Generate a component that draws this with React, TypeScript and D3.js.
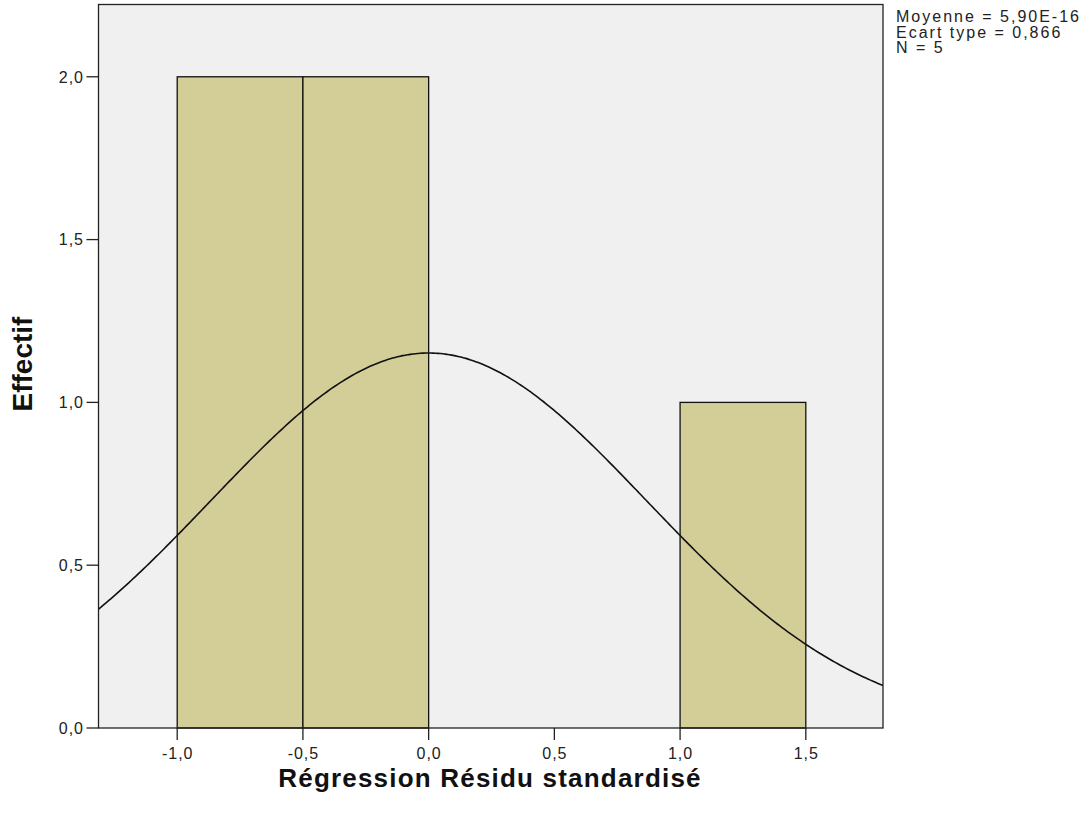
import React from 'react';
import * as d3 from 'd3';

// histogram bins (lower edge, upper edge, count)
const binStarts = [-1.0, -0.5, 1.0];
const binEnds = [-0.5, 0.0, 1.5];
const binCounts = [2, 2, 1];

const xTicks = [-1.0, -0.5, 0.0, 0.5, 1.0, 1.5];
const yTicks = [0, 0.5, 1.0, 1.5, 2.0];

const statsLines = ['Moyenne = 5,90E-16', 'Ecart type = 0,866', 'N = 5'];
const mean = 5.9e-16;
const stdDev = 0.866;
const nObs = 5;
const binWidth = 0.5;

const W = 1091;
const H = 823;
const left = 98.5;
const right = 883;
const top = 4.5;
const bottom = 728;

const fmt = (v: number) => v.toFixed(1).replace('.', ',');

export default function App() {
  const x = d3.scaleLinear().domain([-1.313, 1.807]).range([left, right]);
  const y = d3.scaleLinear().domain([0, 2.222]).range([bottom, top]);

  // fitted normal curve, scaled to counts per bin
  const curveXs = d3.range(-1.313, 1.808, 0.01);
  const density = (v: number) =>
    (nObs * binWidth) / (stdDev * Math.sqrt(2 * Math.PI)) *
    Math.exp(-0.5 * ((v - mean) / stdDev) ** 2);
  const line = d3.line<number>()
    .x(d => x(d))
    .y(d => y(density(d)))
    .curve(d3.curveBasis);

  const font = 'Arial, "Liberation Sans", sans-serif';

  return (
    <svg width={W} height={H} style={{ position: 'absolute', left: 0, top: 0, background: '#fff' }}>
      <defs>
        <clipPath id="plot">
          <rect x={left} y={top} width={right - left} height={bottom - top} />
        </clipPath>
      </defs>
      <rect x={left} y={top} width={right - left} height={bottom - top} fill="#f0f0f0" />
      {binCounts.map((c, i) => (
        <rect key={i}
          x={x(binStarts[i])} y={y(c)}
          width={x(binEnds[i]) - x(binStarts[i])} height={y(0) - y(c)}
          fill="#d3ce98" stroke="#111" strokeWidth={1.3} />
      ))}
      <path d={line(curveXs) || ''} fill="none" stroke="#111" strokeWidth={1.6} clipPath="url(#plot)" />
      <rect x={left} y={top} width={right - left} height={bottom - top} fill="none" stroke="#222" strokeWidth={1.3} />

      {yTicks.map(t => (
        <g key={'y' + t}>
          <line x1={left - 12} x2={left} y1={y(t)} y2={y(t)} stroke="#222" strokeWidth={1.3} />
          <text x={84} y={y(t)} dy="0.36em" textAnchor="end" fontFamily={font} fontSize={16} letterSpacing={1} fill="#222">{fmt(t)}</text>
        </g>
      ))}
      {xTicks.map(t => (
        <g key={'x' + t}>
          <line x1={x(t)} x2={x(t)} y1={bottom} y2={bottom + 12} stroke="#222" strokeWidth={1.3} />
          <text x={x(t) + 0.5} y={bottom + 31} textAnchor="middle" fontFamily={font} fontSize={16} letterSpacing={1} fill="#222">{fmt(t)}</text>
        </g>
      ))}

      <text x={490} y={787} textAnchor="middle" fontFamily={font} fontSize={26} letterSpacing={1.2} fontWeight="bold" fill="#111">Régression Résidu standardisé</text>
      <text transform={`translate(32,${364}) rotate(-90)`} textAnchor="middle" fontFamily={font} fontSize={28} fontWeight="bold" fill="#111">Effectif</text>

      {statsLines.map((s, i) => (
        <text key={s} x={896} y={22 + i * 15.5} fontFamily={font} fontSize={16} letterSpacing={2} fill="#222">{s}</text>
      ))}
    </svg>
  );
}
